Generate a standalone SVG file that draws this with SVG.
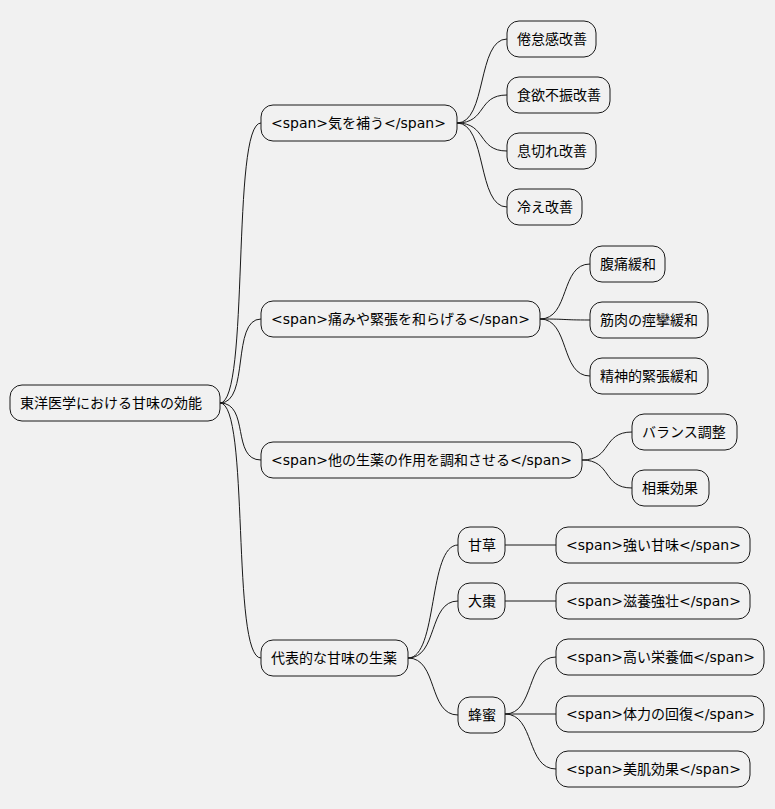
<svg xmlns="http://www.w3.org/2000/svg" width="775" height="809" viewBox="0 0 775 809">
<style>
rect{fill:#F1F1F1;stroke:#181818;stroke-width:1}
text{font-family:"DejaVu Sans","Noto Sans CJK JP",sans-serif;font-size:14px;fill:#000;dominant-baseline:central}
#edges path{fill:none;stroke:#181818;stroke-width:1}
</style>
<rect width="775" height="809" fill="#fff" style="stroke:none"/>
<g id="edges">
<path d="M220 403 C250 403,231 123,261 123"/>
<path d="M220 403 C250 403,231 319,261 319"/>
<path d="M220 403 C250 403,231 460,261 460"/>
<path d="M220 403 C250 403,231 658,261 658"/>
<path d="M457 123 C487 123,477 39,507 39"/>
<path d="M457 123 C487 123,477 95,507 95"/>
<path d="M457 123 C487 123,477 151,507 151"/>
<path d="M457 123 C487 123,477 207,507 207"/>
<path d="M540 319 C570 319,560 264,590 264"/>
<path d="M540 319 C570 319,560 320,590 320"/>
<path d="M540 319 C570 319,560 376,590 376"/>
<path d="M582 460 C612 460,602 432,632 432"/>
<path d="M582 460 C612 460,602 488,632 488"/>
<path d="M408 658 C438 658,428 545,458 545"/>
<path d="M408 658 C438 658,428 601,458 601"/>
<path d="M408 658 C438 658,428 715,458 715"/>
<path d="M505 545 L556 545"/>
<path d="M505 601 L556 601"/>
<path d="M505 714 C535 714,526 657,556 657"/>
<path d="M505 714 L556 714"/>
<path d="M505 714 C535 714,526 769,556 769"/>
</g>
<g id="root"><rect x="10" y="385" width="210" height="36" rx="12"/><text x="20" y="403">東洋医学における甘味の効能</text></g>
<g id="n1"><rect x="261" y="105" width="196" height="36" rx="12"/><text x="271" y="123">&lt;span&gt;気を補う&lt;/span&gt;</text></g>
<g id="n2"><rect x="261" y="301" width="279" height="36" rx="12"/><text x="271" y="319">&lt;span&gt;痛みや緊張を和らげる&lt;/span&gt;</text></g>
<g id="n3"><rect x="261" y="442" width="321" height="36" rx="12"/><text x="271" y="460">&lt;span&gt;他の生薬の作用を調和させる&lt;/span&gt;</text></g>
<g id="n4"><rect x="261" y="640" width="147" height="36" rx="12"/><text x="271" y="658">代表的な甘味の生薬</text></g>
<g id="n11"><rect x="507" y="21" width="89" height="36" rx="12"/><text x="517" y="39">倦怠感改善</text></g>
<g id="n12"><rect x="507" y="77" width="103" height="36" rx="12"/><text x="517" y="95">食欲不振改善</text></g>
<g id="n13"><rect x="507" y="133" width="89" height="36" rx="12"/><text x="517" y="151">息切れ改善</text></g>
<g id="n14"><rect x="507" y="189" width="75" height="36" rx="12"/><text x="517" y="207">冷え改善</text></g>
<g id="n21"><rect x="590" y="246" width="75" height="36" rx="12"/><text x="600" y="264">腹痛緩和</text></g>
<g id="n22"><rect x="590" y="302" width="118" height="36" rx="12"/><text x="600" y="320">筋肉の痙攣緩和</text></g>
<g id="n23"><rect x="590" y="358" width="118" height="36" rx="12"/><text x="600" y="376">精神的緊張緩和</text></g>
<g id="n31"><rect x="632" y="414" width="105" height="36" rx="12"/><text x="642" y="432">バランス調整</text></g>
<g id="n32"><rect x="632" y="470" width="77" height="36" rx="12"/><text x="642" y="488">相乗効果</text></g>
<g id="n41"><rect x="458" y="527" width="47" height="36" rx="12"/><text x="468" y="545">甘草</text></g>
<g id="n42"><rect x="458" y="583" width="47" height="36" rx="12"/><text x="468" y="601">大棗</text></g>
<g id="n43"><rect x="458" y="697" width="47" height="36" rx="12"/><text x="468" y="715">蜂蜜</text></g>
<g id="n411"><rect x="556" y="527" width="194" height="36" rx="12"/><text x="566" y="545">&lt;span&gt;強い甘味&lt;/span&gt;</text></g>
<g id="n421"><rect x="556" y="583" width="194" height="36" rx="12"/><text x="566" y="601">&lt;span&gt;滋養強壮&lt;/span&gt;</text></g>
<g id="n431"><rect x="556" y="639" width="208" height="36" rx="12"/><text x="566" y="657">&lt;span&gt;高い栄養価&lt;/span&gt;</text></g>
<g id="n432"><rect x="556" y="696" width="208" height="36" rx="12"/><text x="566" y="714">&lt;span&gt;体力の回復&lt;/span&gt;</text></g>
<g id="n433"><rect x="556" y="751" width="194" height="36" rx="12"/><text x="566" y="769">&lt;span&gt;美肌効果&lt;/span&gt;</text></g>
</svg>
